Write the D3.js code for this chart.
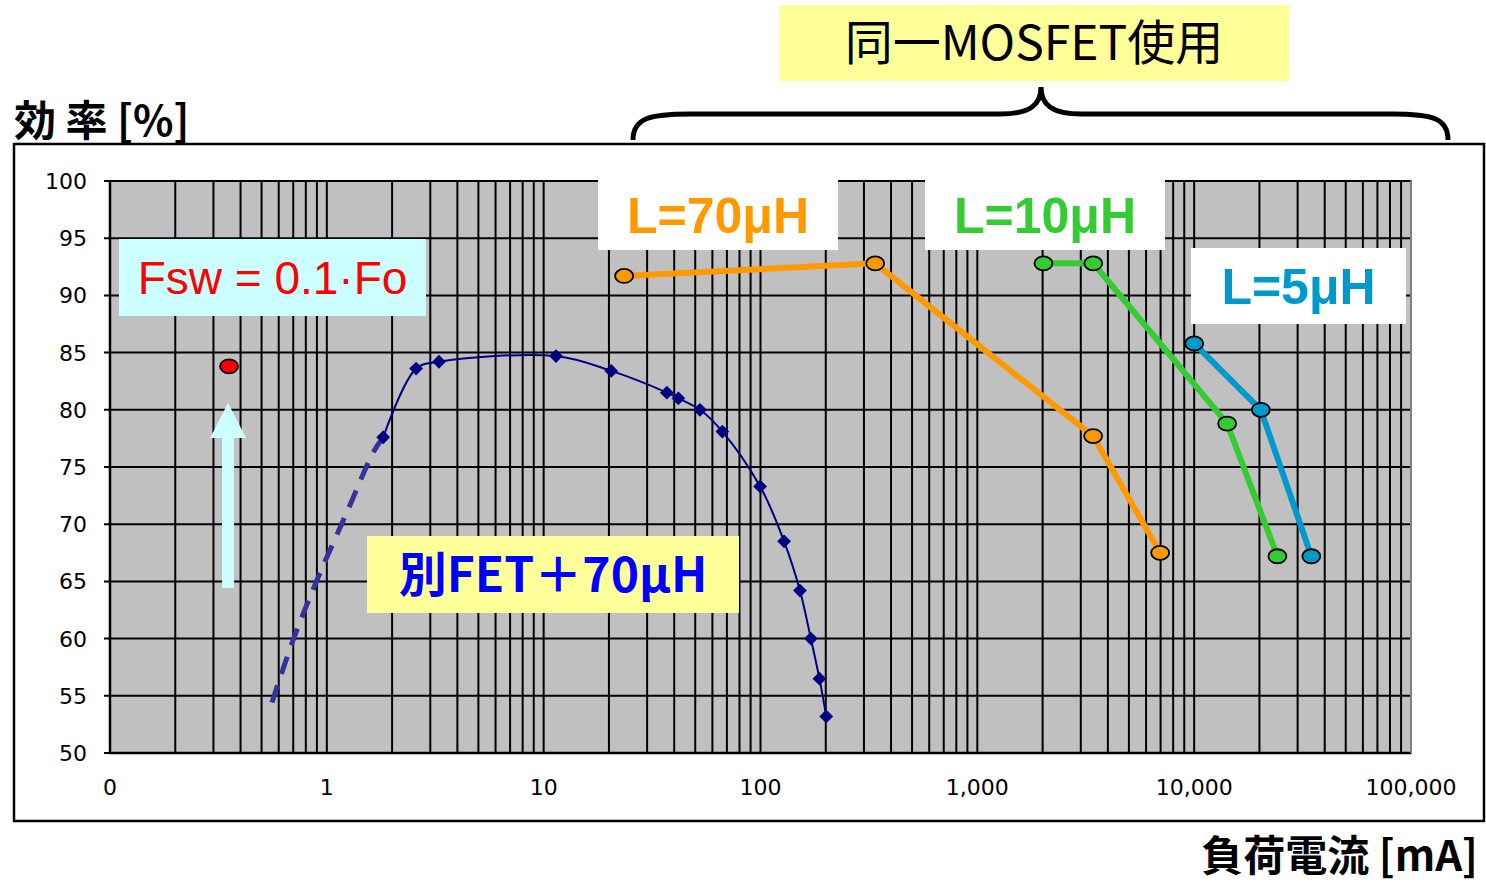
<!DOCTYPE html>
<html>
<head>
<meta charset="utf-8">
<script src="https://cdn.jsdelivr.net/npm/d3@7"></script>
<style>
  body { margin: 0; background: #fff; }
  text { font-family: "Liberation Sans", Arial, "Noto Sans CJK JP", sans-serif; }
  .cjk { font-family: "Noto Sans CJK JP", "Liberation Sans", sans-serif; }
  .tick { font-family: "DejaVu Sans", "Liberation Sans", sans-serif; }
</style>
</head>
<body>
<div id="chart"></div>
<script>
// data (load current in mA, efficiency in %)
var fetX = [1.82, 2.58, 3.29, 11.4, 20.5, 37, 41.8, 52.6, 66.7, 99.6, 128.5, 152, 170.7, 187, 201];
var fetY = [77.6, 83.6, 84.2, 84.7, 83.4, 81.5, 81.0, 80.0, 78.1, 73.3, 68.5, 64.2, 60.0, 56.5, 53.2];
var dashX = [1.82, 1.64, 1.235, 0.914, 0.70, 0.547];
var dashY = [77.6, 76.3, 71.0, 65.4, 59.9, 53.9];
var l70X = [23.5, 338, 3420, 6970];
var l70Y = [91.7, 92.8, 77.7, 67.5];
var l10X = [2018, 3425, 14190, 24200];
var l10Y = [92.8, 92.8, 78.8, 67.2];
var l5X = [10000, 20300, 34700];
var l5Y = [85.8, 80.0, 67.2];
var redX = [0.354];
var redY = [83.8];
var yTicks = [50, 55, 60, 65, 70, 75, 80, 85, 90, 95, 100];
var xTicks = [0.1, 1, 10, 100, 1000, 10000, 100000];
var xTickLabels = ["0", "1", "10", "100", "1,000", "10,000", "100,000"];

var W = 1486, H = 883;
var plotL = 110, plotR = 1411, plotT = 181, plotB = 753;

var svg = d3.select("#chart").append("svg")
  .attr("width", W).attr("height", H);

var x = d3.scaleLog().domain([0.1, 100000]).range([plotL, plotR]);
var y = d3.scaleLinear().domain([50, 100]).range([plotB, plotT]);

// outer frame
svg.append("rect")
  .attr("x", 14).attr("y", 144).attr("width", 1470).attr("height", 677)
  .attr("fill", "none").attr("stroke", "#000").attr("stroke-width", 2.5);

// plot background
svg.append("rect")
  .attr("x", plotL).attr("y", plotT).attr("width", plotR - plotL).attr("height", plotB - plotT)
  .attr("fill", "#c0c0c0").attr("stroke", "#808080").attr("stroke-width", 2);

// vertical grid (log decades with minor lines)
var vLines = [];
for (var e = -1; e < 5; e++) {
  for (var k = 1; k <= 9; k++) vLines.push(k * Math.pow(10, e));
}
vLines.push(100000);
svg.append("g").selectAll("line").data(vLines).enter().append("line")
  .attr("x1", function(d) { return x(d); }).attr("x2", function(d) { return x(d); })
  .attr("y1", plotT).attr("y2", plotB)
  .attr("stroke", "#000").attr("stroke-width", 2);

// horizontal grid
svg.append("g").selectAll("line").data(yTicks).enter().append("line")
  .attr("x1", plotL - 6).attr("x2", plotR)
  .attr("y1", function(d) { return y(d); }).attr("y2", function(d) { return y(d); })
  .attr("stroke", "#000").attr("stroke-width", 2);

// axes lines
svg.append("line").attr("x1", plotL).attr("x2", plotL).attr("y1", plotT).attr("y2", plotB)
  .attr("stroke", "#000").attr("stroke-width", 2.5);
svg.append("line").attr("x1", plotL).attr("x2", plotR).attr("y1", plotB).attr("y2", plotB)
  .attr("stroke", "#000").attr("stroke-width", 2.5);
svg.append("line").attr("x1", plotR).attr("x2", plotR).attr("y1", plotT).attr("y2", plotB)
  .attr("stroke", "#808080").attr("stroke-width", 2);

// tick labels
svg.append("g").selectAll("text").data(yTicks).enter().append("text")
  .attr("class", "tick")
  .attr("x", 87).attr("y", function(d) { return y(d); })
  .attr("dy", "0.36em")
  .attr("text-anchor", "end")
  .style("font-size", "22px")
  .text(function(d) { return d; });

svg.append("g").selectAll("text").data(xTicks).enter().append("text")
  .attr("class", "tick")
  .attr("x", function(d) { return x(d); }).attr("y", 795)
  .attr("text-anchor", "middle")
  .style("font-size", "22px")
  .text(function(d, i) { return xTickLabels[i]; });

// axis titles
svg.append("text").attr("class", "cjk")
  .attr("x", 14).attr("y", 136)
  .style("font-size", "42px").style("font-weight", "bold")
  .text("効 率 [%]");
svg.append("text").attr("class", "cjk")
  .attr("x", 1478).attr("y", 871)
  .attr("text-anchor", "end")
  .style("font-size", "42px").style("font-weight", "bold")
  .text("負荷電流 [mA]");

function pts(xs, ys) { return xs.map(function(v, i) { return [v, ys[i]]; }); }

// 別FET + 70uH: dashed extrapolation
svg.append("path")
  .datum(pts(dashX, dashY))
  .attr("fill", "none").attr("stroke", "#333399").attr("stroke-width", 5)
  .attr("stroke-dasharray", "18,12")
  .attr("d", d3.line().curve(d3.curveCatmullRom)
    .x(function(d) { return x(d[0]); }).y(function(d) { return y(d[1]); }));

// 別FET + 70uH: smoothed measured curve
svg.append("path")
  .datum(pts(fetX, fetY))
  .attr("fill", "none").attr("stroke", "#000080").attr("stroke-width", 2)
  .attr("d", d3.line().curve(d3.curveCatmullRom)
    .x(function(d) { return x(d[0]); }).y(function(d) { return y(d[1]); }));

svg.append("g").selectAll("path").data(pts(fetX, fetY)).enter().append("path")
  .attr("transform", function(d) { return "translate(" + x(d[0]) + "," + y(d[1]) + ") rotate(45)"; })
  .attr("d", d3.symbol().type(d3.symbolSquare).size(95))
  .attr("fill", "#000080");

// same MOSFET series
var series = [
  {xs: l70X, ys: l70Y, color: "#ff9900"},
  {xs: l10X, ys: l10Y, color: "#33cc33"},
  {xs: l5X, ys: l5Y, color: "#0099cc"}
];
series.forEach(function(s) {
  var p = pts(s.xs, s.ys);
  svg.append("path").datum(p)
    .attr("fill", "none").attr("stroke", s.color).attr("stroke-width", 6)
    .attr("d", d3.line().x(function(d) { return x(d[0]); }).y(function(d) { return y(d[1]); }));
  svg.append("g").selectAll("ellipse").data(p).enter().append("ellipse")
    .attr("cx", function(d) { return x(d[0]); }).attr("cy", function(d) { return y(d[1]); })
    .attr("rx", 9).attr("ry", 7)
    .attr("fill", s.color).attr("stroke", "#000").attr("stroke-width", 1.8);
});

// red point + arrow
var rx = x(redX[0]), ry = y(redY[0]);
svg.append("ellipse").attr("cx", rx).attr("cy", ry).attr("rx", 9).attr("ry", 7)
  .attr("fill", "#ff0000").attr("stroke", "#000").attr("stroke-width", 1.8);
var ax = rx - 1;
svg.append("path")
  .attr("d", "M" + (ax - 6) + ",588 L" + (ax - 6) + ",438 L" + (ax - 18) + ",438 L" + ax + ",403 L" +
    (ax + 18) + ",438 L" + (ax + 6) + ",438 L" + (ax + 6) + ",588 Z")
  .attr("fill", "#ccffff");

// label boxes
function label(bx, by, bw, bh, fill, txt, color, size, weight, cls) {
  svg.append("rect").attr("x", bx).attr("y", by).attr("width", bw).attr("height", bh).attr("fill", fill);
  svg.append("text").attr("class", cls || null)
    .attr("x", bx + bw / 2).attr("y", by + bh / 2).attr("dy", "0.36em")
    .attr("text-anchor", "middle")
    .style("font-size", size + "px").style("font-weight", weight)
    .attr("fill", color).text(txt);
}
label(598, 180, 240, 70, "#ffffff", "L=70μH", "#ff9900", 50, "bold");
label(925, 180, 240, 70, "#ffffff", "L=10μH", "#33cc33", 50, "bold");
label(1191, 248, 215, 76, "#ffffff", "L=5μH", "#0099cc", 50, "bold");
label(119, 239, 307, 77, "#ccffff", "Fsw = 0.1·Fo", "#ff0000", 46, "normal");
label(367, 536, 372, 77, "#ffff99", "別FET＋70μH", "#0000ff", 48, "bold", "cjk");
label(779, 5, 510, 76, "#ffff99", "同一MOSFET使用", "#000000", 48, "normal", "cjk");

// brace
svg.append("path")
  .attr("d", "M633,140 C633,118 650,114 690,114 L1000,114 C1030,114 1041,105 1041,87 " +
    "C1041,105 1052,114 1082,114 L1392,114 C1432,114 1448,118 1448,140")
  .attr("fill", "none").attr("stroke", "#000").attr("stroke-width", 5);
</script>
</body>
</html>
